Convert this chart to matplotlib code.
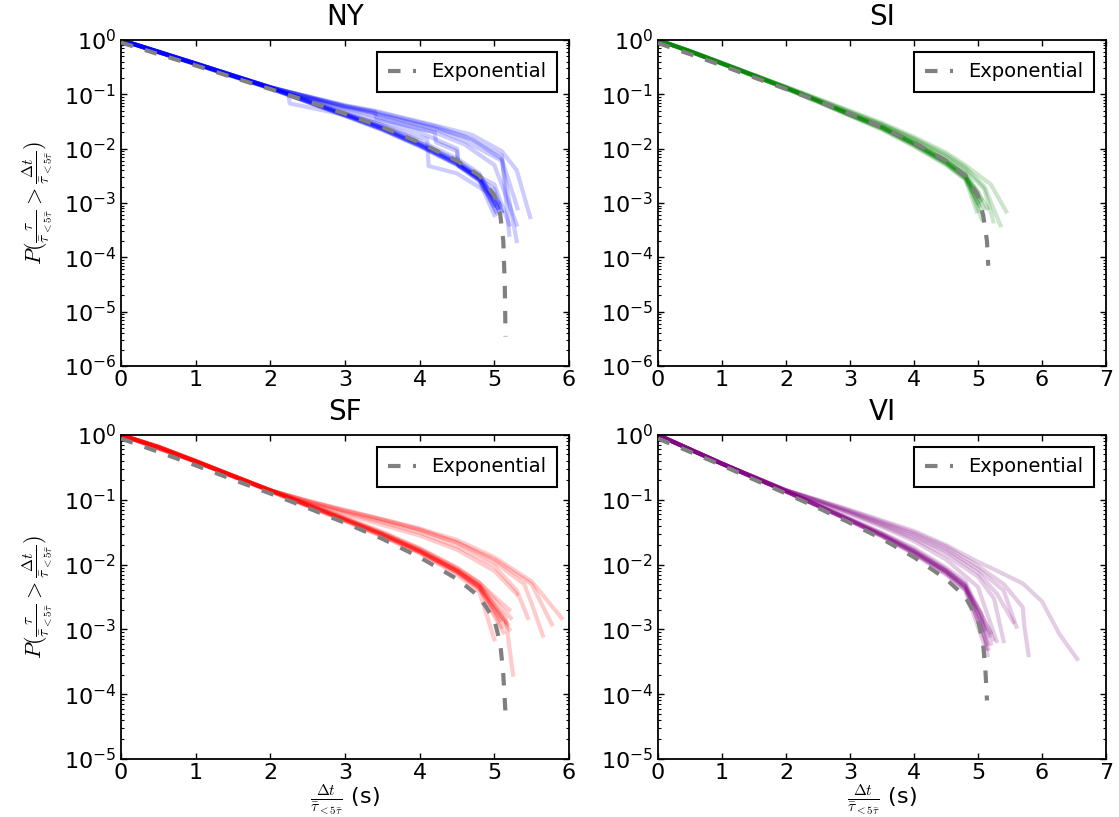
import numpy as np
import matplotlib
matplotlib.use('Agg')
import matplotlib.pyplot as plt

# survival curves of rescaled waiting times, one line per run, per city

cities = ['NY', 'SI', 'SF', 'VI']
colors = ['blue', 'green', 'red', 'purple']
xmax = [6, 7, 6, 7]
ymin = [1e-6, 1e-6, 1e-5, 1e-5]

grid = [0, 0.5, 1, 1.5, 2, 2.5, 3, 3.5, 4, 4.5, 4.8]

# ---- NY ----
ny_exp_x = [0, 0.5, 1, 1.5, 2, 2.5, 3, 3.5, 4, 4.5, 4.8, 5.0, 5.08, 5.12, 5.14, 5.15]
ny_exp_y = [0.9, 0.55, 0.34, 0.205, 0.125, 0.075, 0.044, 0.025, 0.013, 0.006,
            0.0032, 0.0014, 6e-4, 2e-4, 3e-5, 3.5e-6]
ny_runs = [
    (grid + [5.02], [1, 0.6, 0.36, 0.215, 0.13, 0.073, 0.041, 0.023, 0.0115, 0.0052, 0.0027, 7e-4]),
    (grid + [5.05], [1, 0.61, 0.365, 0.22, 0.132, 0.075, 0.043, 0.024, 0.012, 0.0055, 0.0029, 8e-4]),
    (grid + [5.0], [1, 0.6, 0.36, 0.214, 0.128, 0.072, 0.04, 0.022, 0.011, 0.005, 0.0025, 6e-4]),
    (grid + [5.08], [1, 0.61, 0.37, 0.222, 0.134, 0.077, 0.044, 0.025, 0.013, 0.006, 0.0032, 9e-4]),
    (grid + [5.04], [1, 0.6, 0.362, 0.217, 0.131, 0.074, 0.042, 0.0235, 0.0118, 0.0054, 0.0028, 6.5e-4]),
    (grid + [5.06], [1, 0.6, 0.358, 0.213, 0.129, 0.072, 0.0405, 0.0225, 0.0112, 0.0051, 0.0026, 1e-3]),
    (grid + [5.1], [1, 0.61, 0.366, 0.22, 0.133, 0.076, 0.0435, 0.0245, 0.0125, 0.0058, 0.003, 7e-4]),
    (grid + [5.0], [1, 0.6, 0.36, 0.216, 0.13, 0.074, 0.042, 0.023, 0.0116, 0.0053, 0.0027, 9e-4]),
    (grid + [5.05], [1, 0.61, 0.37, 0.222, 0.135, 0.079, 0.046, 0.027, 0.014, 0.0066, 0.0035, 8e-4]),
    ([0, 1, 2, 3, 3.4, 4.2, 4.6, 5.1, 5.2],
     [1, 0.37, 0.135, 0.062, 0.048, 0.026, 0.017, 0.0075, 2.6e-4]),
    ([0, 1, 2, 3, 3.4, 4.2, 4.6, 5.1, 5.3],
     [1, 0.37, 0.135, 0.058, 0.044, 0.023, 0.014, 0.006, 2e-4]),
    ([0, 1, 2, 3, 3.4, 4.2, 4.7, 5.1, 5.31],
     [1, 0.37, 0.135, 0.06, 0.045, 0.024, 0.015, 0.0065, 8e-4]),
    ([0, 1, 2, 3, 3.4, 4.2, 4.7, 5.1, 5.3, 5.48],
     [1, 0.37, 0.135, 0.063, 0.05, 0.027, 0.018, 0.009, 0.004, 5.5e-4]),
    ([0, 1, 2, 3, 3.4, 4.2, 4.6, 5.0, 5.3],
     [1, 0.37, 0.135, 0.055, 0.04, 0.02, 0.012, 0.005, 4e-4]),
    ([0, 1, 2, 2.24, 2.26, 3.0, 3.4, 4.1, 4.12, 4.5, 4.9, 5.05],
     [1, 0.37, 0.135, 0.105, 0.068, 0.042, 0.03, 0.015, 0.0048, 0.0035, 0.0016, 8e-4]),
    ([0, 1, 2, 3, 3.4, 3.42, 4.2, 4.22, 4.5, 4.52, 5.0, 5.2],
     [1, 0.37, 0.135, 0.06, 0.048, 0.036, 0.02, 0.013, 0.009, 0.0048, 0.0022, 4e-4]),
    ([0, 1, 2, 2.26, 2.6, 3, 4, 4.5, 4.52, 5.0, 5.1],
     [1, 0.37, 0.13, 0.1, 0.08, 0.05, 0.02, 0.01, 0.005, 0.0018, 7e-4]),
]

# ---- SI ----
si_exp_x = [0, 0.5, 1, 1.5, 2, 2.5, 3, 3.5, 4, 4.5, 4.8, 5.0, 5.08, 5.14, 5.16]
si_exp_y = [0.88, 0.55, 0.34, 0.205, 0.125, 0.075, 0.044, 0.025, 0.013, 0.006,
            0.0032, 0.0014, 6e-4, 2e-4, 7e-5]
si_runs = [
    (grid + [5.0], [1, 0.62, 0.37, 0.22, 0.13, 0.075, 0.042, 0.024, 0.012, 0.0055, 0.003, 1e-3]),
    (grid + [4.98], [1, 0.62, 0.365, 0.218, 0.128, 0.073, 0.041, 0.023, 0.0115, 0.0052, 0.0028, 7e-4]),
    (grid + [5.05], [1, 0.62, 0.37, 0.222, 0.132, 0.076, 0.043, 0.025, 0.0125, 0.0058, 0.0032, 1.2e-3]),
    (grid + [5.02], [1, 0.61, 0.365, 0.216, 0.127, 0.072, 0.04, 0.0225, 0.011, 0.005, 0.0027, 9e-4]),
    (grid + [5.08], [1, 0.62, 0.372, 0.223, 0.133, 0.077, 0.044, 0.0255, 0.013, 0.006, 0.0034, 6e-4]),
    (grid + [5.0], [1, 0.62, 0.37, 0.22, 0.13, 0.075, 0.0425, 0.0245, 0.0122, 0.0056, 0.003, 1.6e-3]),
    (grid + [5.1], [1, 0.62, 0.37, 0.221, 0.131, 0.076, 0.043, 0.025, 0.0128, 0.006, 0.0033, 8e-4]),
    (grid + [5.04], [1, 0.62, 0.368, 0.219, 0.129, 0.074, 0.0415, 0.0238, 0.0119, 0.0054, 0.0029, 1.1e-3]),
    (grid + [5.06], [1, 0.62, 0.371, 0.222, 0.131, 0.076, 0.0432, 0.0248, 0.0126, 0.0059, 0.0032, 5e-4]),
    (grid + [5.1, 5.24], [1, 0.63, 0.38, 0.228, 0.138, 0.082, 0.048, 0.028, 0.015, 0.0072, 0.0042, 0.0018, 4.6e-4]),
    (grid + [5.2, 5.44], [1, 0.63, 0.38, 0.228, 0.138, 0.083, 0.05, 0.03, 0.0165, 0.0085, 0.005, 0.0022, 7e-4]),
    (grid + [5.1, 5.35], [1, 0.62, 0.375, 0.225, 0.135, 0.08, 0.047, 0.028, 0.0155, 0.0078, 0.0046, 0.002, 3.9e-4]),
    (grid + [5.15], [1, 0.62, 0.375, 0.225, 0.135, 0.079, 0.046, 0.027, 0.014, 0.0068, 0.0038, 8e-4]),
]

# ---- SF ----
sf_exp_x = [0, 0.5, 1, 1.5, 2, 2.5, 3, 3.5, 4, 4.5, 4.8, 5.0, 5.08, 5.12, 5.15]
sf_exp_y = [0.88, 0.55, 0.34, 0.205, 0.125, 0.075, 0.044, 0.025, 0.013, 0.006,
            0.0032, 0.0014, 6e-4, 2e-4, 5e-5]
sf_runs = [
    (grid + [5.0], [1, 0.65, 0.39, 0.23, 0.135, 0.08, 0.047, 0.027, 0.015, 0.007, 0.0038, 7e-4]),
    (grid + [5.1], [1, 0.66, 0.39, 0.232, 0.138, 0.082, 0.049, 0.029, 0.016, 0.008, 0.0045, 1.1e-3]),
    (grid + [5.15], [1, 0.66, 0.4, 0.235, 0.14, 0.084, 0.051, 0.03, 0.017, 0.0085, 0.005, 1.3e-3]),
    (grid + [5.2], [1, 0.65, 0.39, 0.23, 0.137, 0.081, 0.048, 0.028, 0.0155, 0.0075, 0.0042, 1e-3]),
    (grid + [5.22], [1, 0.66, 0.4, 0.236, 0.141, 0.086, 0.053, 0.032, 0.018, 0.009, 0.0053, 1.5e-3]),
    (grid + [5.15, 5.25], [1, 0.65, 0.39, 0.232, 0.139, 0.083, 0.05, 0.03, 0.0165, 0.008, 0.0046, 1.5e-3, 2e-4]),
    (grid + [5.2], [1, 0.66, 0.4, 0.235, 0.14, 0.085, 0.052, 0.031, 0.0175, 0.0088, 0.0052, 2e-3]),
    (grid + [5.12], [1, 0.65, 0.39, 0.23, 0.136, 0.081, 0.048, 0.028, 0.0155, 0.0076, 0.0043, 9e-4]),
    (grid + [5.18], [1, 0.65, 0.395, 0.233, 0.139, 0.083, 0.05, 0.029, 0.016, 0.0079, 0.0046, 1.2e-3]),
    (grid + [5.08], [1, 0.66, 0.395, 0.234, 0.14, 0.084, 0.05, 0.0295, 0.0163, 0.0081, 0.0047, 1.4e-3]),
    ([0, 1, 2, 2.5, 3, 3.5, 4, 4.5, 5, 5.3, 5.45],
     [1, 0.39, 0.14, 0.092, 0.063, 0.045, 0.031, 0.019, 0.0095, 0.004, 0.0015]),
    ([0, 1, 2, 2.5, 3, 3.5, 4, 4.5, 5, 5.4, 5.5, 5.65],
     [1, 0.39, 0.14, 0.095, 0.067, 0.048, 0.034, 0.022, 0.011, 0.005, 0.0025, 8e-4]),
    ([0, 1, 2, 2.5, 3, 3.5, 4, 4.5, 5, 5.5, 5.9],
     [1, 0.39, 0.14, 0.097, 0.07, 0.05, 0.036, 0.024, 0.013, 0.0055, 0.0015]),
    ([0, 1, 2, 2.5, 3, 3.5, 4, 4.5, 5, 5.5, 5.77],
     [1, 0.39, 0.14, 0.096, 0.068, 0.05, 0.035, 0.022, 0.012, 0.005, 0.0012]),
    ([0, 1, 2, 2.5, 3, 3.5, 4, 4.5, 5, 5.3],
     [1, 0.39, 0.14, 0.09, 0.06, 0.041, 0.028, 0.017, 0.008, 0.0035]),
]

# ---- VI ----
vi_exp_x = [0, 0.5, 1, 1.5, 2, 2.5, 3, 3.5, 4, 4.5, 4.8, 5.0, 5.08, 5.12, 5.14]
vi_exp_y = [0.88, 0.55, 0.34, 0.205, 0.125, 0.075, 0.044, 0.025, 0.013, 0.006,
            0.0032, 0.0014, 6e-4, 2e-4, 8e-5]
vi_runs = [
    (grid + [5.05, 5.15], [1, 0.6, 0.36, 0.22, 0.135, 0.08, 0.048, 0.028, 0.015, 0.0075, 0.0042, 0.0018, 4e-4]),
    (grid + [5.2], [1, 0.6, 0.36, 0.22, 0.135, 0.082, 0.05, 0.03, 0.017, 0.0085, 0.005, 6e-4]),
    (grid + [5.24], [1, 0.6, 0.365, 0.222, 0.137, 0.083, 0.051, 0.031, 0.018, 0.009, 0.0055, 7e-4]),
    (grid + [5.12], [1, 0.6, 0.36, 0.218, 0.134, 0.08, 0.047, 0.027, 0.0145, 0.007, 0.004, 5e-4]),
    (grid + [5.18], [1, 0.6, 0.362, 0.22, 0.136, 0.082, 0.049, 0.029, 0.016, 0.008, 0.0047, 8e-4]),
    (grid + [5.1], [1, 0.6, 0.36, 0.22, 0.135, 0.081, 0.048, 0.028, 0.0155, 0.0078, 0.0045, 1e-3]),
    (grid + [5.15], [1, 0.6, 0.36, 0.219, 0.134, 0.08, 0.0475, 0.0275, 0.015, 0.0073, 0.0042, 6e-4]),
    (grid + [5.2], [1, 0.6, 0.362, 0.221, 0.136, 0.082, 0.0495, 0.0295, 0.0165, 0.0082, 0.0048, 9e-4]),
    (grid + [5.16], [1, 0.6, 0.36, 0.22, 0.135, 0.081, 0.0485, 0.0285, 0.0158, 0.0079, 0.0046, 5e-4]),
    ([0, 1, 2, 2.5, 3, 3.5, 4, 4.5, 5, 5.3, 5.7, 6.0, 6.27, 6.55],
     [1, 0.36, 0.14, 0.1, 0.07, 0.048, 0.033, 0.02, 0.011, 0.008, 0.0051, 0.0027, 8.5e-4, 3.5e-4]),
    ([0, 1, 2, 2.5, 3, 3.5, 4, 4.5, 5, 5.4, 5.7, 5.72, 5.79],
     [1, 0.36, 0.14, 0.098, 0.068, 0.046, 0.031, 0.019, 0.0095, 0.005, 0.0022, 0.0012, 4e-4]),
    ([0, 1, 2, 2.5, 3, 3.5, 4, 4.5, 5, 5.4, 5.6],
     [1, 0.36, 0.14, 0.097, 0.066, 0.044, 0.029, 0.017, 0.0085, 0.004, 0.0011]),
    ([0, 1, 2, 2.5, 3, 3.5, 4, 4.5, 5, 5.3, 5.55],
     [1, 0.36, 0.14, 0.096, 0.064, 0.042, 0.027, 0.016, 0.0075, 0.0035, 0.0013]),
    ([0, 1, 2, 2.5, 3, 3.5, 4, 4.5, 5, 5.25, 5.4],
     [1, 0.36, 0.14, 0.094, 0.062, 0.04, 0.025, 0.014, 0.0065, 0.003, 6.6e-4]),
    ([0, 1, 2, 2.5, 3, 3.5, 4, 4.5, 5, 5.29],
     [1, 0.36, 0.14, 0.092, 0.06, 0.038, 0.023, 0.012, 0.0045, 6.6e-4]),
]

all_runs = [ny_runs, si_runs, sf_runs, vi_runs]
all_exp = [(ny_exp_x, ny_exp_y), (si_exp_x, si_exp_y), (sf_exp_x, sf_exp_y), (vi_exp_x, vi_exp_y)]

plt.rcParams['font.family'] = 'DejaVu Sans'
plt.rcParams['mathtext.fontset'] = 'cm'
plt.rcParams['axes.unicode_minus'] = False
plt.rcParams['xtick.direction'] = 'in'
plt.rcParams['ytick.direction'] = 'in'
plt.rcParams['xtick.top'] = True
plt.rcParams['ytick.right'] = True
plt.rcParams['xtick.major.size'] = 4.5
plt.rcParams['ytick.major.size'] = 4.5
plt.rcParams['ytick.minor.size'] = 2.2
plt.rcParams['axes.linewidth'] = 1.3

fig = plt.figure(figsize=(11.19, 8.17), dpi=100)
boxes = [
    [0.1081, 0.552, 0.4004, 0.399],
    [0.588, 0.552, 0.4004, 0.399],
    [0.1081, 0.071, 0.4004, 0.3966],
    [0.588, 0.071, 0.4004, 0.3966],
]

ylab = r'$P(\frac{\tau}{\bar{\tau}_{<5\bar{\tau}}} > \frac{\Delta t}{\bar{\tau}_{<5\bar{\tau}}})$'
xlab = r'$\frac{\Delta t}{\bar{\tau}_{<5\bar{\tau}}}$ (s)'

for i in range(4):
    ax = fig.add_axes(boxes[i])
    for xs, ys in all_runs[i]:
        ax.plot(xs, ys, color=colors[i], alpha=0.2, lw=3)
    ex, ey = all_exp[i]
    ax.plot(ex, ey, color='gray', lw=3, dashes=(3, 3), label='Exponential', zorder=5)
    ax.set_yscale('log')
    ax.set_xlim(0, xmax[i])
    ax.set_ylim(ymin[i], 1)
    ax.set_xticks(range(0, xmax[i] + 1))
    ax.tick_params(labelsize=16, width=1)
    ax.tick_params(axis='x', pad=3)
    ax.tick_params(which='minor', width=0.8)
    ax.set_title(cities[i], fontsize=20, pad=11)
    leg = ax.legend(loc='upper right', fontsize=14, fancybox=False, framealpha=1,
                    handlelength=1.45, borderaxespad=0.6, borderpad=0.55)
    leg.get_frame().set_edgecolor('black')
    leg.get_frame().set_linewidth(1.5)
    if i % 2 == 0:
        ax.set_ylabel(ylab, fontsize=16, labelpad=6)
    if i >= 2:
        ax.set_xlabel(xlab, fontsize=16, labelpad=0)

fig.savefig('out.png', dpi=100)
